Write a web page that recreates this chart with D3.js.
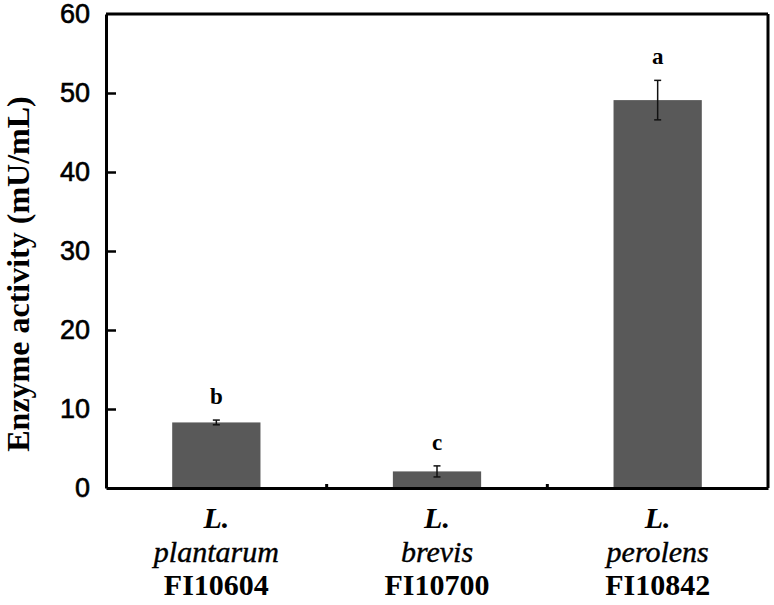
<!DOCTYPE html>
<html>
<head>
<meta charset="utf-8">
<script src="https://cdn.jsdelivr.net/npm/d3@7"></script>
<style>
  html, body { margin: 0; padding: 0; background: #fff; }
  svg { display: block; }
  .serif { font-family: "Liberation Serif", "DejaVu Serif", serif; }
  .sans { font-family: "Liberation Sans", Arial, sans-serif; }
</style>
</head>
<body>
<svg id="chart" width="774" height="605"></svg>
<script>
// ---- data ----
const genus   = ["L.", "L.", "L."];
const species = ["plantarum", "brevis", "perolens"];
const strains = ["FI10604", "FI10700", "FI10842"];
const values  = [8.3, 2.1, 49.1];
const errors  = [0.3, 0.7, 2.5];
const letters = ["b", "c", "a"];
const yTicks  = [0, 10, 20, 30, 40, 50, 60];

// ---- layout ----
const svg = d3.select("#chart");
const margin = { left: 106, top: 14, right: 6, bottom: 117 };
const W = 774 - margin.left - margin.right;
const H = 605 - margin.top - margin.bottom;
const g = svg.append("g").attr("transform", `translate(${margin.left},${margin.top})`);

const x = d3.scaleBand().domain(strains).range([0, W]).padding(0);
const y = d3.scaleLinear().domain([0, 60]).range([H, 0]);
const barW = x.bandwidth() * 0.4;

// bars
g.selectAll("rect.bar").data(strains).join("rect")
  .attr("class", "bar")
  .attr("x", (d) => x(d) + (x.bandwidth() - barW) / 2)
  .attr("y", (d, i) => y(values[i]))
  .attr("width", barW)
  .attr("height", (d, i) => y(0) - y(values[i]))
  .attr("fill", "#595959");

// error bars
const capW = 3.5;
const eb = g.selectAll("g.err").data(strains).join("g")
  .attr("class", "err")
  .attr("transform", (d) => `translate(${x(d) + x.bandwidth() / 2},0)`);
eb.append("line")
  .attr("y1", (d, i) => y(values[i] - errors[i]))
  .attr("y2", (d, i) => y(values[i] + errors[i]))
  .attr("stroke", "#111").attr("stroke-width", 1.5);
eb.append("line")
  .attr("x1", -capW).attr("x2", capW)
  .attr("y1", (d, i) => y(values[i] + errors[i]))
  .attr("y2", (d, i) => y(values[i] + errors[i]))
  .attr("stroke", "#111").attr("stroke-width", 1.5);
eb.append("line")
  .attr("x1", -capW).attr("x2", capW)
  .attr("y1", (d, i) => y(values[i] - errors[i]))
  .attr("y2", (d, i) => y(values[i] - errors[i]))
  .attr("stroke", "#111").attr("stroke-width", 1.5);

// significance letters
g.selectAll("text.sig").data(strains).join("text")
  .attr("class", "sig serif")
  .attr("x", (d) => x(d) + x.bandwidth() / 2)
  .attr("y", (d, i) => y(values[i] + errors[i]) - 16)
  .attr("text-anchor", "middle")
  .style("font-weight", "bold")
  .style("font-size", "23px")
  .attr("fill", "#000")
  .text((d, i) => letters[i]);

// frame (top & right)
g.append("line").attr("x1", 0).attr("x2", W).attr("y1", 0).attr("y2", 0)
  .attr("stroke", "#000").attr("stroke-width", 3);
g.append("line").attr("x1", W).attr("x2", W).attr("y1", 0).attr("y2", H)
  .attr("stroke", "#000").attr("stroke-width", 3);

// y axis (ticks inward)
const yAxis = g.append("g")
  .call(d3.axisLeft(y).tickValues(yTicks).tickSizeInner(-10).tickSizeOuter(0).tickPadding(16));
yAxis.attr("font-family", null).attr("font-size", null);
yAxis.select(".domain").attr("stroke-width", 3);
yAxis.selectAll(".tick line").attr("stroke-width", 2.5);
yAxis.selectAll(".tick").filter((d) => d === 0 || d === 60).select("line").remove();
yAxis.selectAll(".tick text")
  .attr("class", "sans")
  .style("font-size", "27px")
  .attr("fill", "#000")
  .attr("stroke", "#000")
  .attr("stroke-width", 0.6);

// x axis: boundary ticks inward
const xAxis = g.append("g").attr("transform", `translate(0,${H})`)
  .call(d3.axisBottom(x).tickSize(0).tickFormat(""));
xAxis.select(".domain").attr("stroke-width", 3);
const bounds = strains.slice(1).map((d) => x(d));
g.selectAll("line.xb").data(bounds).join("line")
  .attr("class", "xb")
  .attr("x1", (d) => d).attr("x2", (d) => d)
  .attr("y1", H).attr("y2", H - 4)
  .attr("stroke", "#000").attr("stroke-width", 3);

// category labels
const labelG = g.selectAll("g.lab").data(strains).join("g")
  .attr("class", "lab serif")
  .attr("transform", (d) => `translate(${x(d) + x.bandwidth() / 2},${H})`);
labelG.append("text").attr("y", 40).attr("text-anchor", "middle")
  .style("font-style", "italic").style("font-weight", "bold")
  .style("font-size", "30px").text((d, i) => genus[i]);
labelG.append("text").attr("y", 74).attr("text-anchor", "middle")
  .style("font-style", "italic")
  .style("font-size", "30px")
  .attr("stroke", "#000").attr("stroke-width", 0.4)
  .text((d, i) => species[i]);
labelG.append("text").attr("y", 107).attr("text-anchor", "middle")
  .style("font-weight", "bold")
  .style("font-size", "30px").text((d) => d);

// y title
svg.append("text")
  .attr("class", "serif")
  .attr("transform", `translate(29,${margin.top + H / 2 + 23}) rotate(-90)`)
  .attr("text-anchor", "middle")
  .style("font-weight", "bold")
  .style("font-size", "32px")
  .text("Enzyme activity (mU/mL)");
</script>
</body>
</html>
